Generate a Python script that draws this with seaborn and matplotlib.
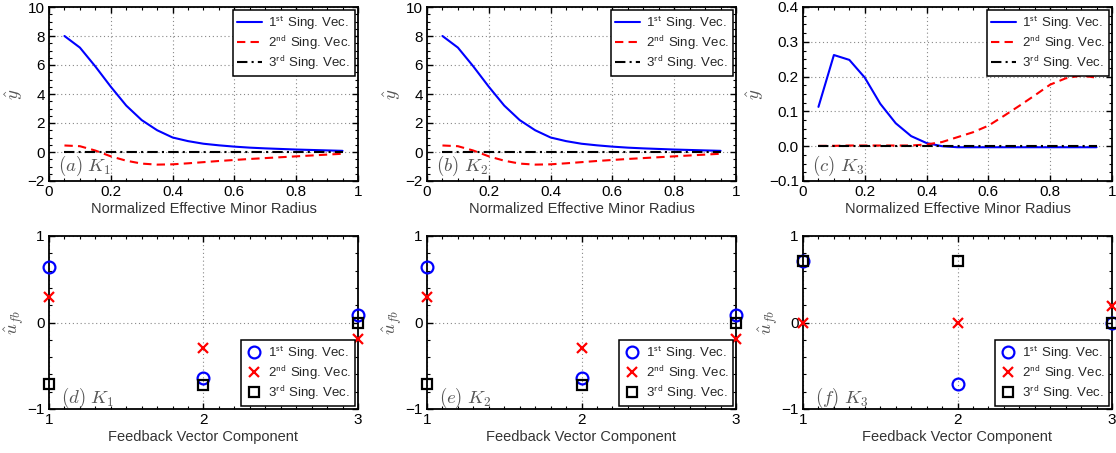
import numpy as np
import pandas as pd
import matplotlib
matplotlib.use("Agg")
import matplotlib.pyplot as plt
from matplotlib.ticker import MultipleLocator, FixedLocator
import seaborn as sns

# ---- radial profiles of the output singular vectors ----
radius = [0.05, 0.10, 0.15, 0.20, 0.25, 0.30, 0.35, 0.40, 0.45, 0.50,
          0.55, 0.60, 0.65, 0.70, 0.75, 0.80, 0.85, 0.90, 0.95]

k1_sv1 = [8.0, 7.2, 5.9, 4.5, 3.2, 2.2, 1.5, 1.0, 0.75, 0.57,
          0.46, 0.37, 0.30, 0.25, 0.21, 0.17, 0.14, 0.11, 0.08]
k1_sv2 = [0.45, 0.40, 0.10, -0.30, -0.60, -0.80, -0.87, -0.85, -0.78, -0.70,
          -0.62, -0.55, -0.48, -0.42, -0.36, -0.30, -0.24, -0.18, -0.12]
k1_sv3 = [0.0] * 19

k2_sv1 = [8.0, 7.2, 5.9, 4.5, 3.2, 2.2, 1.5, 1.0, 0.75, 0.57,
          0.46, 0.37, 0.30, 0.25, 0.21, 0.17, 0.14, 0.11, 0.08]
k2_sv2 = [0.45, 0.40, 0.10, -0.30, -0.60, -0.80, -0.87, -0.85, -0.78, -0.70,
          -0.62, -0.55, -0.48, -0.42, -0.36, -0.30, -0.24, -0.18, -0.12]
k2_sv3 = [0.0] * 19

k3_sv1 = [0.113, 0.262, 0.248, 0.197, 0.122, 0.066, 0.029, 0.009, 0.0, -0.003,
          -0.003, -0.003, -0.003, -0.003, -0.003, -0.003, -0.003, -0.003, -0.003]
k3_sv2 = [0.001, 0.001, 0.002, 0.002, 0.002, 0.002, 0.002, 0.005, 0.012, 0.026,
          0.040, 0.059, 0.087, 0.116, 0.146, 0.177, 0.195, 0.203, 0.197]
k3_sv3 = [0.0] * 19

# ---- feedback (input) singular vectors ----
component = [1, 2, 3]
fb_k1_sv1 = [0.64, -0.64, 0.085]
fb_k1_sv2 = [0.29, -0.30, -0.185]
fb_k1_sv3 = [-0.71, -0.72, 0.0]

fb_k2_sv1 = [0.64, -0.64, 0.085]
fb_k2_sv2 = [0.29, -0.30, -0.185]
fb_k2_sv3 = [-0.71, -0.72, 0.0]

fb_k3_sv1 = [0.707, -0.707, 0.0]
fb_k3_sv2 = [0.0, -0.005, 0.19]
fb_k3_sv3 = [0.707, 0.707, 0.0]

series_labels = [r"1$^{\mathsf{st}}$ Sing. Vec.",
                 r"2$^{\mathsf{nd}}$ Sing. Vec.",
                 r"3$^{\mathsf{rd}}$ Sing. Vec."]
top_tags = [r"$(a)\ K_1$", r"$(b)\ K_2$", r"$(c)\ K_3$"]
bottom_tags = [r"$(d)\ K_1$", r"$(e)\ K_2$", r"$(f)\ K_3$"]

top_xticks = [0, 0.2, 0.4, 0.6, 0.8, 1.0]
top_xticklabels = ["0", "0.2", "0.4", "0.6", "0.8", "1"]
k12_yticks = [-2, 0, 2, 4, 6, 8, 10]
k12_yticklabels = ["\u22122", "0", "2", "4", "6", "8", "10"]
k3_yticks = [-0.1, 0.0, 0.1, 0.2, 0.3, 0.4]
k3_yticklabels = ["\u22120.1", "0.0", "0.1", "0.2", "0.3", "0.4"]
bot_xticks = [1, 2, 3]
bot_yticks = [-1, 0, 1]
bot_yticklabels = ["\u22121", "0", "1"]

sns.set_style("white")
plt.rcParams["font.family"] = ["Liberation Sans", "DejaVu Sans"]
plt.rcParams["mathtext.fontset"] = "cm"

W, H = 1116, 453
fig = plt.figure(figsize=(W / 100, H / 100), dpi=100)


def px_axes(left, right, top, bottom):
    return fig.add_axes([left / W, 1 - bottom / H, (right - left) / W, (bottom - top) / H])


lefts = [49, 427, 803]
width = 309
top_axes = [px_axes(l, l + width, 7, 181) for l in lefts]
bot_axes = [px_axes(l, l + width, 236, 409) for l in lefts]

gray = "#555555"


def style_axes(ax):
    for s in ax.spines.values():
        s.set_color("black")
        s.set_linewidth(1.3)
    ax.tick_params(which="both", direction="in", top=True, right=True,
                   bottom=True, left=True, colors="black", labelsize=11,
                   labelcolor="black", pad=3)
    ax.tick_params(which="major", length=4.5, width=1.0)
    ax.tick_params(which="minor", length=2.5, width=0.8)
    ax.grid(True, which="major", linestyle=(0, (1, 2.5)), color="#888888",
            linewidth=0.8)
    ax.set_axisbelow(True)


def add_legend(ax, loc, handlelength):
    leg = ax.legend(loc=loc, fontsize=9.5, frameon=True, fancybox=False,
                    edgecolor="black", framealpha=1, handlelength=handlelength,
                    borderpad=0.3, labelspacing=0.12, handletextpad=0.4,
                    borderaxespad=0.25)
    leg.get_frame().set_linewidth(1.1)
    leg.set_zorder(10)
    return leg


profiles = [
    (k1_sv1, k1_sv2, k1_sv3),
    (k2_sv1, k2_sv2, k2_sv3),
    (k3_sv1, k3_sv2, k3_sv3),
]
line_styles = [("blue", "-"), ((1, 0, 0), (0, (4, 2.5))), ("black", (0, (5, 2, 1, 2)))]

for i, ax in enumerate(top_axes):
    for vals, (c, ls), lab in zip(profiles[i], line_styles, series_labels):
        df = pd.DataFrame({"r": radius, "y": vals})
        sns.lineplot(data=df, x="r", y="y", ax=ax, color=c, linestyle=ls,
                     linewidth=1.5, label=lab, legend=False)
    style_axes(ax)
    ax.set_xlim(0, 1)
    ax.set_xticks(top_xticks)
    ax.set_xticklabels(top_xticklabels)
    ax.xaxis.set_minor_locator(MultipleLocator(0.05))
    if i < 2:
        ax.set_ylim(-2, 10)
        ax.set_yticks(k12_yticks)
        ax.set_yticklabels(k12_yticklabels)
        ax.yaxis.set_minor_locator(MultipleLocator(0.5))
    else:
        ax.set_ylim(-0.1, 0.4)
        ax.set_yticks(k3_yticks)
        ax.set_yticklabels(k3_yticklabels)
        ax.yaxis.set_minor_locator(FixedLocator(np.arange(-0.1, 0.4001, 0.025)))
    ax.set_xlabel("Normalized Effective Minor Radius", fontsize=10.5,
                  color="#333333", labelpad=2)
    ax.set_ylabel(r"$\hat{y}$", fontsize=13.5, color=gray, labelpad=2)
    ax.text(0.03, 0.085, top_tags[i], transform=ax.transAxes, fontsize=13.5,
            color=gray, ha="left", va="center")
    add_legend(ax, "upper right", 1.9)

feedback = [
    (fb_k1_sv1, fb_k1_sv2, fb_k1_sv3),
    (fb_k2_sv1, fb_k2_sv2, fb_k2_sv3),
    (fb_k3_sv1, fb_k3_sv2, fb_k3_sv3),
]
marker_styles = [
    dict(marker="o", markersize=8.5, markerfacecolor="none",
         markeredgecolor="blue", markeredgewidth=1.6, color="blue"),
    dict(marker="x", markersize=6.5, markeredgecolor=(1, 0, 0),
         markeredgewidth=1.6, color=(1, 0, 0)),
    dict(marker="s", markersize=7, markerfacecolor="none",
         markeredgecolor="black", markeredgewidth=1.6, color="black"),
]

for i, ax in enumerate(bot_axes):
    for vals, mk, lab in zip(feedback[i], marker_styles, series_labels):
        df = pd.DataFrame({"c": component, "u": vals})
        sns.lineplot(data=df, x="c", y="u", ax=ax, linestyle="none",
                     label=lab, legend=False, clip_on=False, zorder=5, **mk)
    style_axes(ax)
    ax.set_xlim(1, 3)
    ax.set_ylim(-1, 1)
    ax.set_xticks(bot_xticks)
    ax.set_xticklabels([str(v) for v in bot_xticks])
    ax.set_yticks(bot_yticks)
    ax.set_yticklabels(bot_yticklabels)
    ax.xaxis.set_minor_locator(MultipleLocator(0.1))
    ax.yaxis.set_minor_locator(MultipleLocator(0.2))
    ax.set_xlabel("Feedback Vector Component", fontsize=10.5, color="#333333",
                  labelpad=2)
    ax.set_ylabel(r"$\hat{u}_{fb}$", fontsize=13.5, color=gray, labelpad=1)
    ax.text(0.04, 0.065, bottom_tags[i], transform=ax.transAxes, fontsize=13.5,
            color=gray, ha="left", va="center")
    add_legend(ax, "lower right", 1.3)

fig.savefig("out.png", dpi=100)
